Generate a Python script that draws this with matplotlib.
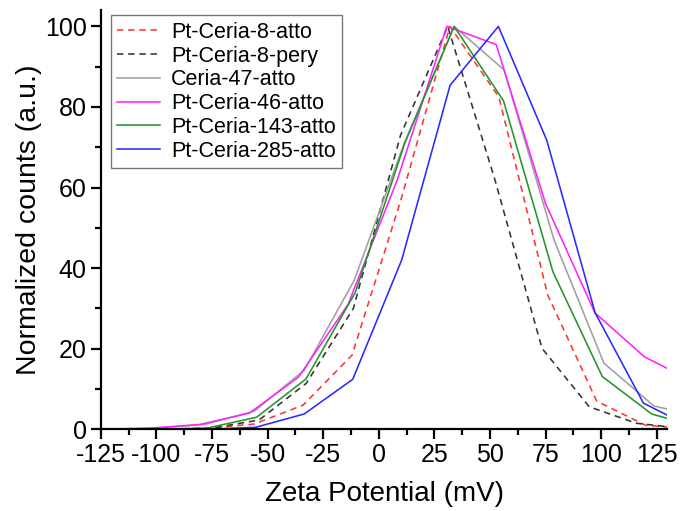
import matplotlib
matplotlib.use("Agg")
import matplotlib.pyplot as plt
from matplotlib.ticker import MultipleLocator, FuncFormatter

plt.rcParams["font.family"] = ["Liberation Sans", "DejaVu Sans"]
plt.rcParams["axes.unicode_minus"] = False

# Zeta potential distributions (mV bins, normalized counts)
labels = ["Pt-Ceria-8-atto", "Pt-Ceria-8-pery", "Ceria-47-atto",
          "Pt-Ceria-46-atto", "Pt-Ceria-143-atto", "Pt-Ceria-285-atto"]

zeta_8_atto = [-144, -122, -100, -78, -56, -34, -12, 10, 32, 54, 76, 98, 120, 142]
counts_8_atto = [0, 0, 0, 0.2, 1.3, 6.0, 18.4, 57, 100, 82.5, 33.3, 7.0, 1.0, 0]

zeta_8_pery = [-138.6, -117.4, -96.2, -75.0, -53.8, -32.6, -11.4, 9.8, 31.0, 52.2, 73.4, 94.6, 115.8, 137.0]
counts_8_pery = [0, 0, 0, 0.3, 2.3, 11.4, 30, 73, 100, 62, 20.1, 5.6, 1.5, 0.2]

zeta_47_atto = [-145.7, -123.25, -100.8, -78.35, -55.9, -33.45, -11.0, 11.45, 33.9, 56.35, 78.8, 101.25, 123.7, 146.15]
counts_47_atto = [0, 0, 0.2, 1.2, 4.5, 14.7, 37, 71, 100, 89.2, 47, 16.4, 5.8, 2.9]

zeta_46_atto = [-147.0, -124.8, -102.6, -80.4, -58.2, -36.0, -13.8, 8.4, 30.6, 52.8, 75.0, 97.2, 119.4, 141.6]
counts_46_atto = [0, 0, 0.3, 1.2, 4.0, 13.0, 31, 62, 100, 95.5, 56, 28.9, 18.0, 11.8]

zeta_143_atto = [-143.7, -121.5, -99.3, -77.1, -54.9, -32.7, -10.5, 11.7, 33.9, 56.1, 78.3, 100.5, 122.7, 144.9]
counts_143_atto = [0, 0, 0, 0.3, 3.0, 12.5, 34, 71, 100, 81.5, 39.1, 13.1, 3.8, 0.35]

zeta_285_atto = [-142.5, -120.7, -98.9, -77.1, -55.3, -33.5, -11.7, 10.3, 32.1, 53.8, 75.5, 97.3, 119.0, 140.8]
counts_285_atto = [0, 0, 0, 0, 0.5, 3.8, 12.4, 42, 85.4, 100, 71.8, 28.9, 6.5, 0.4]

xticks = [-125, -100, -75, -50, -25, 0, 25, 50, 75, 100, 125]
yticks = [0, 20, 40, 60, 80, 100]

series = [
    (zeta_8_atto, counts_8_atto, "#ff3333", (0, (4, 3))),
    (zeta_8_pery, counts_8_pery, "#333333", (0, (4, 3))),
    (zeta_47_atto, counts_47_atto, "#a0a0a0", "-"),
    (zeta_46_atto, counts_46_atto, "#ff22ff", "-"),
    (zeta_143_atto, counts_143_atto, "#22962a", "-"),
    (zeta_285_atto, counts_285_atto, "#2a2aff", "-"),
]

fig = plt.figure(figsize=(6.81, 5.11), dpi=100)
ax = fig.add_axes([0.1479, 0.1599, 0.8322, 0.820])

for (x, y, c, ls), lab in zip(series, labels):
    ax.plot(x, y, color=c, linestyle=ls, linewidth=1.15, label=lab)

ax.set_xlim(-125, 129.8)
ax.set_ylim(0, 104)
ax.set_xticks(xticks)
ax.set_yticks(yticks)
ax.xaxis.set_minor_locator(MultipleLocator(12.5))
ax.yaxis.set_minor_locator(MultipleLocator(10))
ax.xaxis.set_major_formatter(FuncFormatter(lambda v, p: "%d" % v))

for side in ("top", "right"):
    ax.spines[side].set_visible(False)
for side in ("left", "bottom"):
    ax.spines[side].set_linewidth(1.6)

ax.tick_params(which="major", direction="out", length=7, width=1.6,
               labelsize=18, pad=3, colors="black")
ax.tick_params(which="minor", direction="out", length=4, width=1.6)

ax.set_xlabel("Zeta Potential (mV)", fontsize=20, labelpad=10)
ax.set_ylabel("Normalized counts (a.u.)", fontsize=20.5)
ax.yaxis.set_label_coords(-0.103, 0.5)

leg = ax.legend(loc="upper left", bbox_to_anchor=(0.0177, 0.988),
                fontsize=15.5, frameon=True, fancybox=False,
                borderaxespad=0, handlelength=2.0, handletextpad=0.5,
                labelspacing=0.13, borderpad=0.3)
leg.get_frame().set_edgecolor("#555555")
leg.get_frame().set_linewidth(1.0)

fig.savefig("out.png", dpi=100)
